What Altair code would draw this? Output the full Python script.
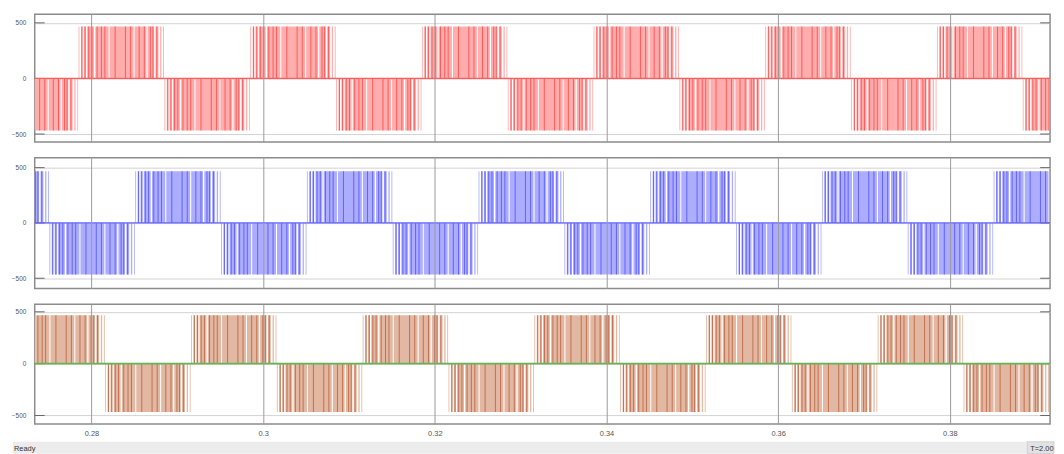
import altair as alt
import pandas as pd

# ---------------- axes ----------------
x_domain = [0.27339, 0.39168]
x_ticks = [0.28, 0.30, 0.32, 0.34, 0.36, 0.38]
y_ticks = [-500, 0, 500]
y_domains = [[-571, 577], [-592, 589], [-582, 573]]
panel_heights = [129, 132, 121]
plot_width = 1026

# ---------------- signals ----------------
half_cycle = 0.01
amplitude = 467

red_half_starts = [0.2685, 0.2785, 0.2885, 0.2985, 0.3085, 0.3185, 0.3285,
                   0.3385, 0.3485, 0.3585, 0.3685, 0.3785, 0.3885]
red_half_signs = [-1, 1, -1, 1, -1, 1, -1, 1, -1, 1, -1, 1, -1]

blue_half_starts = [0.2651, 0.2751, 0.2851, 0.2951, 0.3051, 0.3151, 0.3251,
                    0.3351, 0.3451, 0.3551, 0.3651, 0.3751, 0.3851]
blue_half_signs = [1, -1, 1, -1, 1, -1, 1, -1, 1, -1, 1, -1, 1]

brown_half_starts = [0.2716, 0.2816, 0.2916, 0.3016, 0.3116, 0.3216, 0.3316,
                     0.3416, 0.3516, 0.3616, 0.3716, 0.3816, 0.3916]
brown_half_signs = [1, -1, 1, -1, 1, -1, 1, -1, 1, -1, 1, -1, 1]

# pulse pattern inside one half cycle (fractions of the half cycle)
fill_rel_start = [0.000, 0.028, 0.062, 0.100, 0.195, 0.362, 0.652, 0.805, 0.897, 0.950, 0.985]
fill_rel_end   = [0.010, 0.045, 0.085, 0.180, 0.350, 0.640, 0.790, 0.880, 0.930, 0.965, 0.995]
dark_rel_pos = [0.033, 0.070, 0.112, 0.150, 0.210, 0.260, 0.300, 0.420,
                0.540, 0.600, 0.700, 0.760, 0.830, 0.860, 0.905]
dark_rel_width = 0.012

# colours
red_pale, red_dark = "#ffadad", "#ff5c5c"
blue_pale, blue_dark = "#adadff", "#6464ff"
brown_pale, brown_dark = "#e3b8a2", "#c27352"
green_line = "#62b457"
frame_col = "#8c8c8c"
label_col = "#555555"


def pulses(starts, signs, pale, dark):
    rows = []
    for s, sg in zip(starts, signs):
        for a, b in zip(fill_rel_start, fill_rel_end):
            rows.append(dict(t0=s + a * half_cycle, t1=s + b * half_cycle,
                             v=sg * amplitude, z=0, col=pale, k=0))
        for p in dark_rel_pos:
            rows.append(dict(t0=s + p * half_cycle,
                             t1=s + (p + dark_rel_width) * half_cycle,
                             v=sg * amplitude, z=0, col=dark, k=1))
    return pd.DataFrame(rows)


def panel(starts, signs, pale, dark, zero_col, zero_w, ydom, height, bottom):
    xs = alt.Scale(domain=x_domain, nice=False, zero=False)
    ys = alt.Scale(domain=ydom, nice=False, zero=False)
    xaxis = alt.Axis(values=x_ticks, grid=True, gridColor="#9a9a9a", gridWidth=1,
                     ticks=False, domain=False, title=None, labels=bottom,
                     format=".2~f", labelFont="Liberation Sans", labelFontSize=7.5,
                     labelColor=label_col, labelPadding=6, zindex=1)
    yaxis = alt.Axis(values=y_ticks, grid=True, gridColor="#d2d2d2", gridWidth=1,
                     ticks=False, domain=False, title=None, format="d",
                     labelFont="Liberation Sans", labelFontSize=6.5,
                     labelColor=label_col, labelPadding=9, zindex=0)
    df = pulses(starts, signs, pale, dark)
    rects = alt.Chart(df).mark_rect(clip=True).encode(
        x=alt.X("t0:Q", scale=xs, axis=xaxis),
        x2="t1:Q",
        y=alt.Y("v:Q", scale=ys, axis=yaxis),
        y2="z:Q",
        color=alt.Color("col:N", scale=None, legend=None),
        order=alt.Order("k:Q"),
    )
    zero = alt.Chart(pd.DataFrame({"v": [0]})).mark_rule(
        color=zero_col, strokeWidth=zero_w).encode(y=alt.Y("v:Q", scale=ys, axis=yaxis))
    tdf = pd.DataFrame({"v": y_ticks})
    lt = alt.Chart(tdf).mark_rule(color="#666666", strokeWidth=1).encode(
        y=alt.Y("v:Q", scale=ys, axis=yaxis), x=alt.value(0), x2=alt.value(10))
    rt = alt.Chart(tdf).mark_rule(color="#666666", strokeWidth=1).encode(
        y=alt.Y("v:Q", scale=ys, axis=yaxis),
        x=alt.value(plot_width - 10), x2=alt.value(plot_width))
    layers = [rects, lt, rt, zero]
    if bottom:
        one = pd.DataFrame({"a": [0]})
        bar = alt.Chart(one).mark_rect(color="#ececec").encode(
            x=alt.value(-22), x2=alt.value(1030),
            y=alt.value(height + 18), y2=alt.value(height + 30))
        bar2 = alt.Chart(one).mark_rect(color="#e2e2e2", stroke="#c8c8c8",
                                        strokeWidth=0.8).encode(
            x=alt.value(1003), x2=alt.value(1030),
            y=alt.value(height + 18), y2=alt.value(height + 30))
        t1 = alt.Chart(one).mark_text(text="Ready", align="left", baseline="middle",
                                      font="Liberation Sans", fontSize=7.5,
                                      color="#333333").encode(
            x=alt.value(-21), y=alt.value(height + 25))
        t2 = alt.Chart(one).mark_text(text="T=2.00", align="left", baseline="middle",
                                      font="Liberation Sans", fontSize=7.5,
                                      color="#333333").encode(
            x=alt.value(1006), y=alt.value(height + 25))
        layers += [bar, bar2, t1, t2]
    return alt.layer(*layers).properties(width=plot_width, height=height)


p1 = panel(red_half_starts, red_half_signs, red_pale, red_dark, red_dark, 1.2,
           y_domains[0], panel_heights[0], False)
p2 = panel(blue_half_starts, blue_half_signs, blue_pale, blue_dark, blue_dark, 1.2,
           y_domains[1], panel_heights[1], False)
p3 = panel(brown_half_starts, brown_half_signs, brown_pale, brown_dark, green_line, 1.6,
           y_domains[2], panel_heights[2], True)

chart = alt.vconcat(p1, p2, p3, spacing=14).properties(
    padding={"left": 2, "top": 3, "right": 0, "bottom": 0}
).configure_view(stroke=frame_col, strokeWidth=1.5
).configure_axis(labelColor=label_col)

chart.save("out.html", embed_options={"renderer": "svg", "actions": False})
